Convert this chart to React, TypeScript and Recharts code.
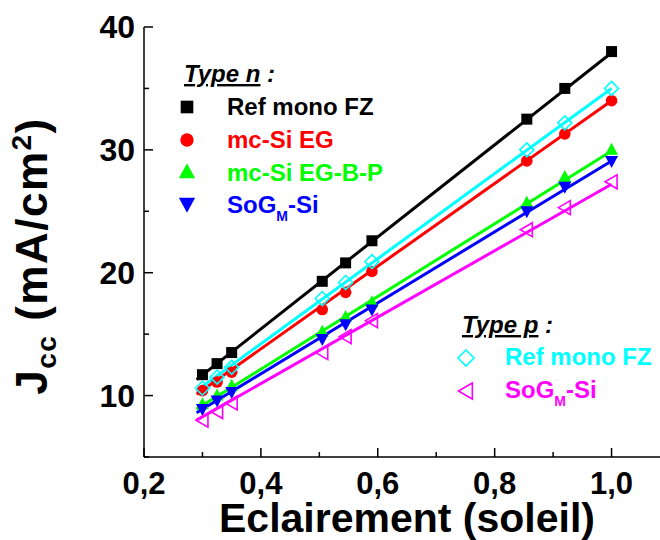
import React from 'react';
import { ScatterChart, Scatter, XAxis, YAxis } from 'recharts';

// illumination (suns) and Jcc values (mA/cm²)
const illumination = [0.3, 0.325, 0.35, 0.505, 0.545, 0.59, 0.855, 0.92, 1.0];
const refMonoN = [11.7, 12.6, 13.5, 19.3, 20.8, 22.6, 32.5, 35.0, 38.0];
const mcSiEG = [10.4, 11.1, 11.9, 17.0, 18.4, 20.1, 29.1, 31.3, 34.0];
const mcSiEGBP = [9.3, 10.0, 10.8, 15.2, 16.4, 17.6, 25.7, 27.8, 30.0];
const sogN = [8.9, 9.6, 10.3, 14.6, 15.8, 17.0, 25.0, 27.0, 29.1];
const refMonoP = [10.6, 11.5, 12.3, 17.9, 19.2, 20.9, 30.0, 32.2, 35.0];
const sogP = [8.0, 8.7, 9.4, 13.5, 14.8, 16.1, 23.5, 25.3, 27.4];

// linear fit lines, end points
const fitX = [0.29, 1.0];
const fitRefMonoN = [11.3, 37.9];
const fitMcSiEG = [10.1, 34.0];
const fitMcSiEGBP = [8.9, 29.9];
const fitSogN = [8.6, 29.1];
const fitRefMonoP = [10.4, 35.0];
const fitSogP = [8.0, 27.2];

const xTicks = [0.2, 0.3, 0.4, 0.5, 0.6, 0.7, 0.8, 0.9, 1.0, 1.1];
const yTicks = [5, 10, 15, 20, 25, 30, 35, 40];

const FONT = "'Liberation Sans', Arial, Helvetica, sans-serif";

type Kind = 'square' | 'circle' | 'up' | 'down' | 'diamond' | 'left';

const marker = (kind: Kind, color: string, cx: number, cy: number, s = 1) => {
  switch (kind) {
    case 'square':
      return <rect x={cx - 5.5 * s} y={cy - 5.5 * s} width={11 * s} height={11 * s} fill={color} />;
    case 'circle':
      return <circle cx={cx} cy={cy} r={5.8 * s} fill={color} />;
    case 'up':
      return <polygon points={`${cx},${cy - 7 * s} ${cx - 6.5 * s},${cy + 5 * s} ${cx + 6.5 * s},${cy + 5 * s}`} fill={color} />;
    case 'down':
      return <polygon points={`${cx},${cy + 7 * s} ${cx - 6.5 * s},${cy - 5 * s} ${cx + 6.5 * s},${cy - 5 * s}`} fill={color} />;
    case 'diamond':
      return <polygon points={`${cx},${cy - 7 * s} ${cx + 7 * s},${cy} ${cx},${cy + 7 * s} ${cx - 7 * s},${cy}`} fill="none" stroke={color} strokeWidth={1.6} />;
    case 'left':
      return <polygon points={`${cx - 6.5 * s},${cy} ${cx + 5.5 * s},${cy - 7 * s} ${cx + 5.5 * s},${cy + 7 * s}`} fill="none" stroke={color} strokeWidth={1.6} />;
  }
};

const series = [
  { name: 'refMonoN', color: '#000000', kind: 'square' as Kind, values: refMonoN, fit: fitRefMonoN },
  { name: 'mcSiEG', color: '#ff0000', kind: 'circle' as Kind, values: mcSiEG, fit: fitMcSiEG },
  { name: 'mcSiEGBP', color: '#00ff00', kind: 'up' as Kind, values: mcSiEGBP, fit: fitMcSiEGBP },
  { name: 'sogN', color: '#0000ff', kind: 'down' as Kind, values: sogN, fit: fitSogN },
  { name: 'refMonoP', color: '#00ffff', kind: 'diamond' as Kind, values: refMonoP, fit: fitRefMonoP },
  { name: 'sogP', color: '#ff00ff', kind: 'left' as Kind, values: sogP, fit: fitSogP },
];

const BottomTick = (props: any) => {
  const { x, y, payload } = props;
  const v = payload.value;
  const major = Math.round(v * 10) % 2 === 0;
  return (
    <g>
      <line x1={x} x2={x} y1={y} y2={y - (major ? 9 : 5)} stroke="#000" strokeWidth={1.5} />
      {major && (
        <text x={x} y={y + 37} textAnchor="middle" fontSize={31} fontWeight="bold" fontFamily={FONT} fill="#000">
          {v.toFixed(1).replace('.', ',')}
        </text>
      )}
    </g>
  );
};

const TopTick = (props: any) => {
  const { x, y, payload } = props;
  const major = Math.round(payload.value * 10) % 2 === 0;
  return <line x1={x} x2={x} y1={y} y2={y + (major ? 9 : 5)} stroke="#000" strokeWidth={1.5} />;
};

const LeftTick = (props: any) => {
  const { x, y, payload } = props;
  const v = payload.value;
  const major = v % 10 === 0;
  return (
    <g>
      <line x1={x} x2={x + (major ? 9 : 5)} y1={y} y2={y} stroke="#000" strokeWidth={1.5} />
      {major && (
        <text x={x - 9} y={y + 11} textAnchor="end" fontSize={32} fontWeight="bold" fontFamily={FONT} fill="#000">
          {v}
        </text>
      )}
    </g>
  );
};

const Overlay = () => (
  <svg width={660} height={540} style={{ position: 'absolute', left: 0, top: 0, pointerEvents: 'none' }}>
    {/* y title */}
    <text transform="translate(47,256) rotate(-90)" textAnchor="middle" fontSize={44} fontWeight="bold" fontFamily={FONT} fill="#000" letterSpacing={1.5}>
      J<tspan fontSize={28} dy={9}>cc</tspan>
      <tspan dy={-9}> (mA/cm</tspan>
      <tspan fontSize={28} dy={-16}>2</tspan>
      <tspan dy={16}>)</tspan>
    </text>
    {/* x title */}
    <text x={407} y={532} textAnchor="middle" fontSize={41} fontWeight="bold" fontFamily={FONT} fill="#000">
      Eclairement (soleil)
    </text>

    {/* type n legend */}
    <text x={184} y={82} fontSize={24} fontWeight="bold" fontStyle="italic" fontFamily={FONT} fill="#000">
      <tspan textDecoration="underline">Type n</tspan> :
    </text>
    {marker('square', '#000000', 187, 107, 1.15)}
    <text x={227} y={115} fontSize={24} fontWeight="bold" fontFamily={FONT} fill="#000000">Ref mono FZ</text>
    {marker('circle', '#ff0000', 187, 140, 1.15)}
    <text x={227} y={148} fontSize={24} fontWeight="bold" fontFamily={FONT} fill="#ff0000">mc-Si EG</text>
    {marker('up', '#00ff00', 187, 172, 1.25)}
    <text x={227} y={181} fontSize={24} fontWeight="bold" fontFamily={FONT} fill="#00ff00">mc-Si EG-B-P</text>
    {marker('down', '#0000ff', 187, 204, 1.25)}
    <text x={227} y={213} fontSize={24} fontWeight="bold" fontFamily={FONT} fill="#0000ff">
      SoG<tspan fontSize={14} dy={8}>M</tspan><tspan dy={-8}>-Si</tspan>
    </text>

    {/* type p legend */}
    <text x={462} y={333} fontSize={24} fontWeight="bold" fontStyle="italic" fontFamily={FONT} fill="#000">
      <tspan textDecoration="underline">Type p</tspan> :
    </text>
    {marker('diamond', '#00ffff', 466, 358, 1.15)}
    <text x={505} y={365} fontSize={24} fontWeight="bold" fontFamily={FONT} fill="#00ffff">Ref mono FZ</text>
    {marker('left', '#ff00ff', 466, 391, 1.15)}
    <text x={505} y={398} fontSize={24} fontWeight="bold" fontFamily={FONT} fill="#ff00ff">
      SoG<tspan fontSize={14} dy={8}>M</tspan><tspan dy={-8}>-Si</tspan>
    </text>
  </svg>
);

export default function App() {
  return (
    <div style={{ position: 'fixed', left: 0, top: 0, width: 660, height: 540, overflow: 'hidden', background: '#fff' }}>
      <ScatterChart width={700} height={540} margin={{ top: 27, right: 30, bottom: 0, left: 0 }}>
        <XAxis
          dataKey="x"
          type="number"
          domain={[0.2, 1.1]}
          ticks={xTicks}
          interval={0}
          allowDataOverflow
          height={83}
          tickSize={0}
          tickMargin={0}
          tickLine={false}
          axisLine={{ stroke: '#000', strokeWidth: 1.5 }}
          tick={BottomTick}
        />
        <XAxis
          xAxisId="top"
          orientation="top"
          dataKey="x"
          type="number"
          domain={[0.2, 1.1]}
          ticks={xTicks}
          interval={0}
          allowDataOverflow
          height={0}
          tickSize={0}
          tickMargin={0}
          tickLine={false}
          axisLine={{ stroke: '#000', strokeWidth: 1.5 }}
          tick={TopTick}
        />
        <YAxis
          dataKey="y"
          type="number"
          domain={[5, 40]}
          ticks={yTicks}
          interval={0}
          allowDataOverflow
          width={144}
          tickSize={0}
          tickMargin={0}
          tickLine={false}
          axisLine={{ stroke: '#000', strokeWidth: 1.5 }}
          tick={LeftTick}
        />
        {series.map((s) => (
          <Scatter
            key={`fit-${s.name}`}
            data={fitX.map((x, i) => ({ x, y: s.fit[i] }))}
            line={{ stroke: s.color, strokeWidth: 3 }}
            shape={() => <g />}
            isAnimationActive={false}
          />
        ))}
        {series.map((s) => (
          <Scatter
            key={`pts-${s.name}`}
            data={illumination.map((x, i) => ({ x, y: s.values[i] }))}
            shape={(p: any) => marker(s.kind, s.color, p.cx, p.cy)}
            isAnimationActive={false}
          />
        ))}
      </ScatterChart>
      <Overlay />
    </div>
  );
}
